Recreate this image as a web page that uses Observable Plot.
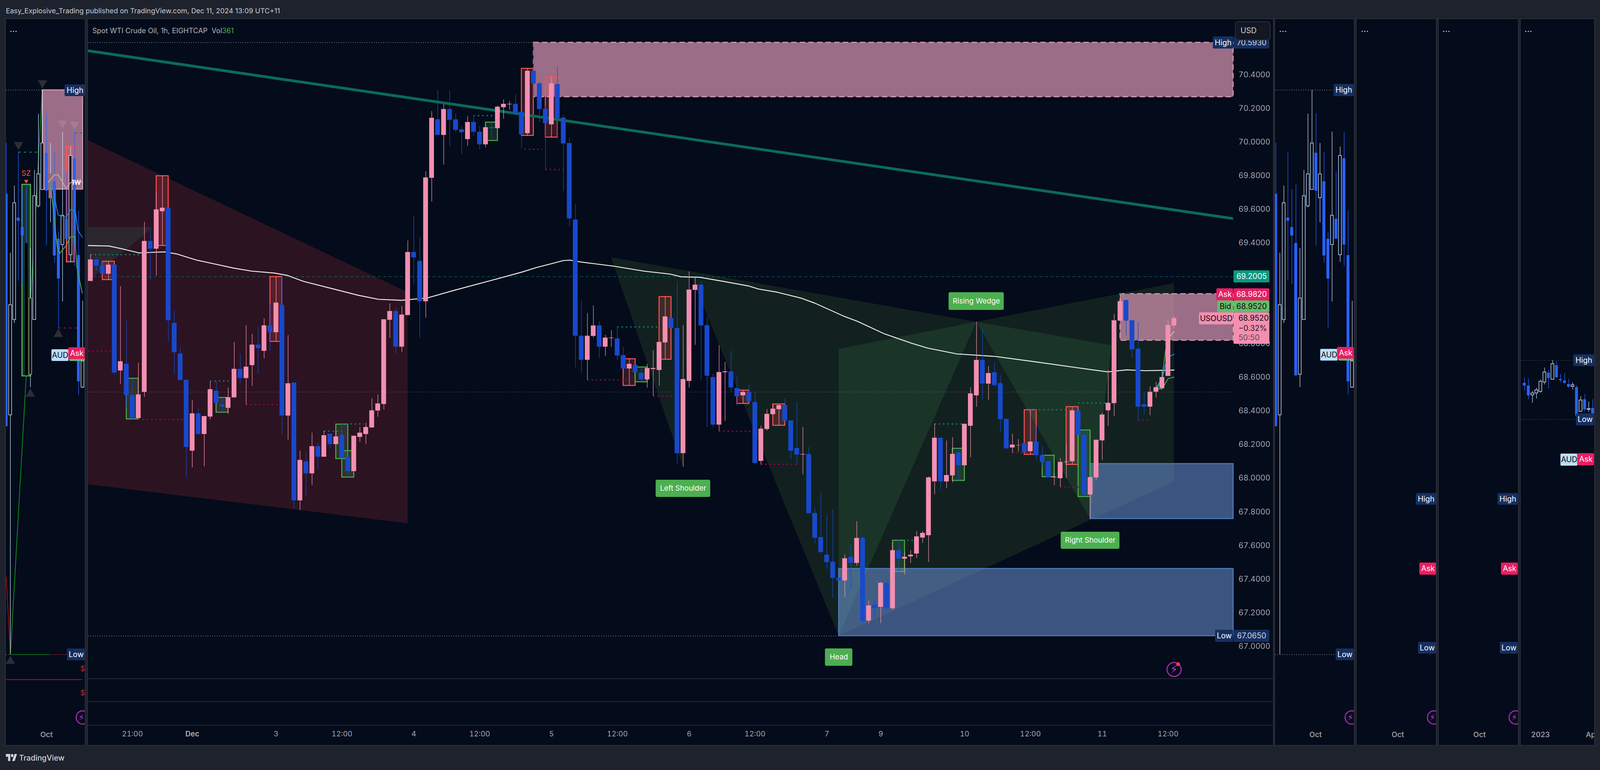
<!doctype html>
<html><head><meta charset="utf-8">
<script src="https://cdn.jsdelivr.net/npm/d3@7"></script>
<script src="https://cdn.jsdelivr.net/npm/@observablehq/plot@0.6"></script>
<style>
html,body{margin:0;padding:0;background:#1e222d;overflow:hidden;}
#page{position:relative;height:1971px;overflow:hidden;background:#1e222d;font-family:Inter,sans-serif;}
.hdr{position:absolute;color:#c9ccd3;white-space:pre;}
.leg{position:absolute;color:#b2b5be;white-space:pre;}
.leg span{color:#4caf50;}
.foot{position:absolute;color:#d1d4dc;font-weight:500;}
.logo{position:absolute;top:1929px;}
</style></head><body><div id="page">
<div class="hdr" id="hdr">Easy_Explosive_Trading published on TradingView.com, Dec 11, 2024 13:09 UTC+11</div>
<svg class="logo" id="logo" height="20" viewBox="0 0 36 20" preserveAspectRatio="none" fill="#d1d4dc"><path d="M14 19H7V8H0V1h14v18zM28 19h-8l7.5-18h8L28 19z"/><circle cx="20" cy="5" r="4"/></svg>
<div class="foot" id="foot">TradingView</div>
</div>
<script>
// ---------- main chart: USOUSD 1h candles, price values
const opens=[69.173,69.301,69.265,69.216,69.270,68.640,68.680,68.494,68.357,68.513,
69.411,69.365,69.588,69.609,68.924,68.741,68.585,68.163,68.385,68.262,
68.366,68.520,68.438,68.418,68.480,68.650,68.595,68.672,68.794,68.757,
68.909,68.868,69.031,68.372,68.569,67.867,68.100,68.028,68.190,68.127,
68.264,68.202,68.258,68.123,68.041,68.245,68.262,68.301,68.402,68.441,
68.942,68.994,68.782,68.970,69.345,69.293,69.052,69.787,70.135,70.042,
70.196,70.135,70.075,70.017,70.119,70.061,69.986,70.088,70.082,70.207,
70.224,70.227,70.180,70.052,70.424,70.349,70.198,70.105,70.345,70.145,
69.994,69.538,68.847,68.704,68.846,68.908,68.782,68.833,68.831,68.732,
68.652,68.675,68.627,68.587,68.649,68.643,68.807,68.953,68.892,68.148,
68.578,69.120,69.151,68.910,68.601,68.318,68.630,68.635,68.536,68.492,
68.512,68.453,68.102,68.292,68.380,68.410,68.434,68.343,68.179,68.140,
68.143,67.792,67.649,67.544,67.502,67.407,67.391,67.532,67.495,67.644,
67.152,67.246,67.234,67.377,67.225,67.571,67.520,67.534,67.551,67.646,
67.660,67.980,68.240,67.980,68.016,68.153,68.076,68.311,68.492,68.703,
68.562,68.630,68.565,68.352,68.182,68.195,68.209,68.160,68.217,68.137,
68.100,68.004,67.999,68.095,68.100,68.403,68.257,67.902,68.004,68.224,
68.403,68.446,68.937,69.060,68.939,68.770,68.439,68.425,68.514,68.535,
68.608,68.908];
const closes=[69.301,69.265,69.216,69.270,68.628,68.695,68.494,68.357,68.498,69.411,
69.365,69.599,69.609,68.939,68.749,68.583,68.185,68.385,68.262,68.369,
68.529,68.448,68.426,68.481,68.650,68.595,68.663,68.794,68.773,68.909,
68.868,69.044,68.372,68.564,67.867,68.108,68.028,68.190,68.127,68.255,
68.202,68.248,68.120,68.041,68.252,68.270,68.304,68.403,68.444,68.945,
68.994,68.782,68.973,69.345,69.313,69.052,69.789,70.144,70.042,70.196,
70.132,70.072,70.058,70.119,70.061,69.986,70.088,70.082,70.210,70.227,
70.227,70.168,70.046,70.424,70.347,70.196,70.112,70.349,70.142,69.991,
69.545,68.847,68.704,68.847,68.908,68.781,68.836,68.836,68.729,68.652,
68.680,68.629,68.587,68.655,68.655,68.810,68.962,68.893,68.148,68.589,
69.122,69.151,68.908,68.609,68.318,68.631,68.635,68.539,68.487,68.512,
68.458,68.090,68.294,68.382,68.413,68.434,68.340,68.163,68.140,68.143,
67.791,67.645,67.560,67.500,67.405,67.391,67.523,67.495,67.644,67.151,
67.242,67.225,67.377,67.225,67.571,67.520,67.532,67.544,67.653,67.674,
68.004,68.240,67.980,68.018,68.144,68.076,68.323,68.504,68.703,68.562,
68.625,68.553,68.350,68.177,68.199,68.197,68.154,68.217,68.136,68.095,
68.006,68.008,68.096,68.098,68.403,68.257,67.904,68.006,68.228,68.378,
68.448,68.939,69.053,68.937,68.766,68.425,68.425,68.514,68.541,68.601,
68.911,68.952];
const highs=[69.332,69.310,69.288,69.290,69.270,69.142,68.936,68.591,68.687,69.525,
69.480,69.703,69.799,69.609,69.001,68.781,68.585,68.464,68.421,68.369,
68.576,68.576,68.477,68.539,68.810,68.739,68.909,68.858,68.899,68.950,
69.033,69.199,69.199,68.850,68.569,68.164,68.150,68.270,68.209,68.283,
68.264,68.283,68.326,68.163,68.252,68.304,68.330,68.474,68.498,68.945,
69.039,69.013,69.024,69.414,69.559,69.436,69.826,70.184,70.307,70.224,
70.307,70.170,70.092,70.153,70.158,70.095,70.088,70.115,70.218,70.254,
70.244,70.284,70.180,70.439,70.593,70.359,70.219,70.389,70.449,70.163,
70.024,69.629,69.056,68.982,69.027,68.932,68.852,68.880,68.901,68.781,
68.711,68.675,68.659,68.680,68.761,68.810,69.080,68.953,69.171,68.910,
69.230,69.193,69.171,68.960,68.621,68.791,68.692,68.757,68.603,68.523,
68.555,68.511,68.312,68.410,68.440,68.441,68.474,68.343,68.453,68.303,
68.185,67.823,67.914,67.782,67.814,67.407,67.544,67.602,67.743,67.653,
67.271,67.276,67.382,67.387,67.617,67.629,67.558,67.570,67.684,67.684,
68.010,68.325,68.240,68.223,68.243,68.177,68.323,68.540,68.930,68.887,
68.666,68.691,68.615,68.352,68.265,68.231,68.209,68.407,68.311,68.188,
68.100,68.027,68.120,68.206,68.422,68.403,68.287,68.006,68.228,68.388,
68.645,68.976,69.097,69.060,68.939,68.930,68.509,68.546,68.572,68.635,
68.942,68.964];
const lows=[69.173,69.236,69.216,69.181,68.613,68.561,68.422,68.350,68.357,68.483,
69.181,69.206,69.384,68.813,68.620,68.583,68.006,68.064,68.262,68.070,
68.350,68.448,68.390,68.382,68.480,68.564,68.438,68.549,68.620,68.712,
68.757,68.813,68.259,68.229,67.818,67.809,67.890,67.960,68.048,68.127,
68.173,68.202,68.110,68.005,68.041,68.215,68.203,68.301,68.365,68.408,
68.835,68.743,68.749,68.970,69.154,68.835,68.954,69.646,70.042,69.866,
69.975,70.058,69.928,69.977,70.038,69.955,69.969,70.009,70.082,70.138,
70.192,70.168,69.961,70.039,70.269,70.119,69.837,70.029,70.018,69.708,
69.499,68.659,68.627,68.585,68.837,68.715,68.727,68.781,68.701,68.652,
68.552,68.629,68.573,68.538,68.489,68.549,68.707,68.893,68.081,68.066,
68.538,68.793,68.582,68.303,68.303,68.280,68.340,68.511,68.431,68.444,
68.458,68.081,68.081,68.283,68.380,68.314,68.340,68.114,68.081,68.022,
67.791,67.614,67.553,67.458,67.288,67.391,67.293,67.342,67.479,67.133,
67.135,67.171,67.137,67.213,67.213,67.444,67.425,67.495,67.524,67.614,
67.501,67.904,67.933,67.940,67.975,67.984,68.076,68.124,68.425,68.465,
68.465,68.546,68.274,68.171,68.151,68.158,68.154,68.141,68.107,68.066,
68.006,67.958,67.948,68.000,68.081,68.257,67.890,67.759,67.989,68.107,
68.310,68.369,68.937,68.848,68.714,68.345,68.379,68.374,68.480,68.535,
68.608,68.894];
const priceTicks=[67.0,67.2,67.4,67.6,67.8,68.0,68.2,68.4,68.6,68.8,69.4,69.6,69.8,70.0,70.2,70.4];
const timeTickBars=[7,31,42,54,65,77,88,100,111,123,132,146,157,169,180];
const timeTickLabels=["21:00","3","12:00","4","12:00","5","12:00","6","12:00","7","9","10","12:00","11","12:00"];
const boldTickBars=[17];
const boldTickLabels=["Dec"];
// slow moving average: [bar, price]
const emaLine=[[-0.4,69.385],[3.04,69.382],[5.2,69.366],[8.1,69.341],[10,69.344],[12.43,69.347],[14.36,69.335],[17.73,69.298],[20.62,69.276],[24,69.25],[26.88,69.233],[30.74,69.221],[32.9,69.207],[35.55,69.172],[40.85,69.124],[44.7,69.089],[48.07,69.065],[51.9,69.059],[56.26,69.073],[60.6,69.117],[67.34,69.181],[72.16,69.228],[74.47,69.254],[76.7,69.274],[78.94,69.295],[80.06,69.298],[82.08,69.286],[87.45,69.262],[92.37,69.233],[96.84,69.215],[98.63,69.199],[101.76,69.196],[105.79,69.171],[109.82,69.145],[111.6,69.126],[114.74,69.107],[118.77,69.071],[121,69.042],[125.92,68.963],[128.16,68.933],[132.64,68.859],[137.11,68.804],[139.8,68.775],[144.7,68.74],[151.13,68.725],[157.39,68.695],[165,68.657],[169.92,68.633],[173.05,68.645],[176.18,68.64],[181,68.644]];
const trendLine=[[-0.41,70.544],[190.9,69.545]];
const thinGreen=[[178,68.531],[179,68.531],[180,68.593],[181,68.602]];
const riseGreen=[[178,68.536],[179,68.598],[179.6,68.765],[180,68.83]];
const riseBeige=[[180,68.83],[181,68.874]];
const riseBlue=[[178.2,68.536],[179,68.588],[179.5,68.671],[180.3,68.726],[181,68.738]];
// zones: [bar from, bar to, price low, price high]
const supplyZones=[[74,190.9,70.269,70.593],[172,190.9,68.82,69.097]];
const demandZones=[[125,190.9,67.062,67.462],[167,190.9,67.759,68.086]];
const redBoxes=[[2,4,69.181,69.29],[11,13,69.384,69.799],[30,32,68.813,69.199],[72,74,70.039,70.438],[76,78,70.029,70.387],[89,91,68.551,68.71],[95,97,68.707,69.08],[108,110,68.444,68.523],[114,116,68.314,68.441],[156,158,68.141,68.407],[163,165,68.081,68.425]];
const greenBoxes=[[6,8,68.352,68.594],[21,23,68.392,68.48],[41,43,68.116,68.321],[42,44,68.006,68.163],[66,68,70.009,70.118],[91,93,68.573,68.661],[134,136,67.444,67.63],[144,146,67.986,68.177],[159,161,68.008,68.136],[165,167,67.89,68.286]];
// dotted swing links: [bar from, bar to, price]
const tealLinks=[[0,8.3,69.331],[20,23.6,68.579],[64,67.6,70.158],[39,42,68.28],[42,45.7,68.323],[88,95,68.901],[141,145.8,68.323],[157,163.65,68.408],[165,170,68.448],[172,174,69.097],[135,137.7,67.631]];
const maroonLinks=[[-0.4,3.5,68.758],[72.5,75.5,69.958],[76,79,69.837],[8,15.6,68.35],[26,31.5,68.438],[83,89.7,68.586],[94,97.5,68.489],[105,110.3,68.28],[112,118.5,68.083],[154,157,68.153],[162,165.7,67.948],[175,177,68.347]];
// patterns: [bar, lower price, upper price]
const redWedge=[[-0.41,67.963,70.011],[53,67.731,69.106]];
const greyWedge=[[-0.41,69.172,69.494],[10.5,69.494,69.494]];
const leftShoulder=[[87,69.314,69.314],[99,68.066,69.238],[100,69.232,69.232]];
const headVee=[[100,69.232,69.232],[125,67.062,69.075],[148,68.93,68.93]];
const bigWedge=[[125,67.062,67.062],[148,67.439,68.93],[181,67.98,69.16]];
const headLight=[[125,67.062,68.768],[148,68.93,68.93]];
const rightWing=[[148,68.93,68.93],[167,67.759,68.812],[170.6,68.79,68.79]];
// pattern labels: [bar from, bar to, price low, price high, text]
const patternLabels=[[143.36,152.58,69.001,69.106,"Rising Wedge"],[94.43,103.55,67.888,67.99,"Left Shoulder"],[122.71,127.29,66.883,66.986,"Head"],[162.09,171.91,67.579,67.681,"Right Shoulder"]];
// price scale tags: [bar from, bar to, price low, price high, fill, text, text colour]
const mainTags=[
[187.5,190.9,70.556,70.628,"#152f61","High","#fff"],
[190.96,196.95,70.556,70.628,"#152f61","70.5930","#d1d4dc"],
[187.87,190.9,67.025,67.097,"#152f61","Low","#fff"],
[190.96,196.95,67.025,67.097,"#152f61","67.0650","#d1d4dc"],
[190.96,196.95,69.164,69.236,"#0a9981","69.2005","#fff"],
[188.1,190.9,69.057,69.129,"#e91e63","Ask","#fff"],
[190.96,196.95,69.057,69.129,"#e91e63","68.9820","#fff"],
[188.25,190.9,68.986,69.057,"#66bb6a","Bid","#0a0a0a"],
[190.96,196.95,68.986,69.057,"#66bb6a","68.9520","#0a0a0a"],
[185.2,190.9,68.915,68.986,"#f48fb1","USOUSD","#0a0a0a"]];
const lastBox=[190.96,196.95,68.799,68.986];
const lastLines=[[68.952,"68.9520","#0a0a0a"],[68.892,"\u22120.32%","#1c1c1c"],[68.836,"50:50","#5d4a52"]];
const paneRules=[66.807,66.67,66.53];
const highPrice=70.593, lowPrice=67.062, hiPrice=69.2, midPrice=68.513;

// ---------- side panels: candles on a nominal scale (no price axis in the picture)
const pOpens=[0.7004,0.6438,0.6682,0.6943,0.6919,0.6878,0.6542,0.6682,0.6973,0.7015,0.7109,0.6994,0.7036,0.6889,0.6874,0.6940,0.6848,0.7095,0.6847,0.6509];
const pCloses=[0.6409,0.6720,0.6981,0.6935,0.6897,0.6539,0.6737,0.6999,0.7055,0.7134,0.7012,0.7055,0.6846,0.6787,0.6949,0.6889,0.7102,0.6874,0.6524,0.6576];
const pHighs=[0.7135,0.6853,0.7025,0.7112,0.7016,0.7028,0.6865,0.7065,0.7209,0.7270,0.7210,0.7134,0.7112,0.6907,0.7163,0.7061,0.7125,0.7162,0.6961,0.6730];
const pLows=[0.6409,0.5825,0.6673,0.6782,0.6773,0.6539,0.6509,0.6682,0.6969,0.7015,0.6872,0.6931,0.6828,0.6661,0.6728,0.6889,0.6830,0.6820,0.6489,0.6507];
const qBars=[1,2,3,4,5,6,7,8,9,10,11,12,13,14,15,16,17,18];
const qOpens=[0.6520,0.6513,0.6489,0.6494,0.6498,0.6522,0.6546,0.6529,0.6565,0.6530,0.6526,0.6517,0.6511,0.6509,0.6447,0.6478,0.6452,0.6456];
const qCloses=[0.6513,0.6488,0.6494,0.6502,0.6524,0.6548,0.6532,0.6569,0.6534,0.6527,0.6520,0.6510,0.6515,0.6436,0.6476,0.6452,0.6454,0.6441];
const qHighs=[0.6534,0.6531,0.6500,0.6507,0.6529,0.6559,0.6553,0.6578,0.6575,0.6543,0.6545,0.6530,0.6521,0.6514,0.6486,0.6491,0.6472,0.6478];
const qLows=[0.6500,0.6478,0.6469,0.6480,0.6495,0.6516,0.6506,0.6529,0.6534,0.6521,0.6517,0.6508,0.6503,0.6436,0.6446,0.6447,0.6446,0.6441];

const BG="#040b1a", UP="#f48fb1", DOWN="#1849cd", TAGBLUE="#152f61", INK="#a3a6af";
// the window may be narrower than the 4954 px the chart was made for: fit the width to it
const REF_W=4954;
const W=Math.min(window.innerWidth||REF_W,REF_W);
const k=W/REF_W;
const F=n=>+(n*Math.max(k,0.85)).toFixed(1);
const page=document.getElementById("page");
page.style.width=W+"px";
const setBox=(id,left,top,size)=>{const e=document.getElementById(id);e.style.left=left*k+"px";e.style.top=top+"px";if(size)e.style.fontSize=size+"px";return e;};
setBox("hdr",18,17,+(21.7*k).toFixed(1));
setBox("foot",59,1928,+(23.5*k).toFixed(1));
document.getElementById("logo").setAttribute("width",35*k);
document.getElementById("logo").style.left=18*k+"px";
function mount(svg,left,top,w,h){
  Object.assign(svg.style,{position:"absolute",left:left*k+"px",top:top+"px",width:w*k+"px",height:h+"px",maxWidth:"none",boxShadow:"0 0 0 2px #2a2e39"});
  page.appendChild(svg);
}
const fieldRect=(rows,o)=>Plot.rect(rows,{x1:d=>d[0],x2:d=>d[1],y1:d=>d[2],y2:d=>d[3],...o});
const linkRules=(rows,o)=>Plot.ruleY(rows,{y:d=>d[2],x1:d=>d[0],x2:d=>d[1],...o});
const xyLine=(rows,o)=>Plot.line(rows,{x:d=>d[0],y:d=>d[1],...o});
const band=(rows,fill)=>Plot.area(rows,{x1:d=>d[0],y1:d=>d[1],y2:d=>d[2],fill,curve:"linear",clip:true});
const tagMarks=(rows)=>rows.flatMap(r=>[
  Plot.rect([r],{x1:d=>d[0],x2:d=>d[1],y1:d=>d[2],y2:d=>d[3],fill:d=>d[4],rx:3}),
  Plot.text([r],{x:d=>(d[0]+d[1])/2,y:d=>(d[2]+d[3])/2,text:d=>d[5],fill:d=>d[6],fontSize:F(23),lineAnchor:"middle"})
]);

// ---------- main panel
const bars=opens.map((o,i)=>({i,o,c:closes[i],h:highs[i],l:lows[i]}));
const ups=bars.filter(d=>d.c>=d.o), downs=bars.filter(d=>d.c<d.o);
const candleMarks=(rows,color)=>[
  Plot.ruleX(rows,{x:"i",y1:"l",y2:"h",stroke:color,strokeWidth:1.3}),
  Plot.rect(rows,{x1:d=>d.i-0.4,x2:d=>d.i+0.4,y1:"o",y2:"c",fill:color})
];
const mainSvg=Plot.plot({
  width:3670*k,height:1858,marginLeft:0,marginRight:124*k,marginTop:0,marginBottom:51,
  x:{domain:[-0.41,190.9]},y:{domain:[66.53,70.731]},
  color:{type:"identity"},
  style:{background:BG,fontFamily:"Inter, sans-serif",overflow:"hidden"},
  marks:[
    band(redWedge,"#2c1321"),
    band(greyWedge,"#2c272e"),
    band(leftShoulder,"#12211f"),
    band(headVee,"#12211f"),
    band(bigWedge,"#12211f"),
    band(headLight,"#1a3528"),
    band(rightWing,"#1a3528"),
    Plot.ruleY(paneRules,{x1:-0.41,x2:197.6,stroke:"#2f333e",strokeWidth:1.5}),
    Plot.ruleY([highPrice],{x1:-0.41,x2:74,stroke:"#8a8d96",strokeWidth:1.5,strokeDasharray:"2,4"}),
    Plot.ruleY([lowPrice],{x1:-0.41,x2:188,stroke:"#8a8d96",strokeWidth:1.5,strokeDasharray:"2,4"}),
    Plot.ruleY([midPrice],{x1:-0.41,x2:190.9,stroke:"#6e6a74",strokeWidth:1,strokeDasharray:"2,4"}),
    Plot.ruleY([hiPrice],{x1:-0.41,x2:190.9,stroke:"#0e8f7a",strokeOpacity:0.75,strokeWidth:1.3,strokeDasharray:"8,6"}),
    fieldRect(supplyZones,{fill:"#f4a6c8",fillOpacity:0.63,stroke:"#d89bb8",strokeWidth:2.5,strokeDasharray:"14,8"}),
    fieldRect(demandZones,{fill:"#6a94d6",fillOpacity:0.55,stroke:"#4f7cc0",strokeWidth:2.5}),
    fieldRect(redBoxes,{fill:"#ff5252",fillOpacity:0.2,stroke:"#ff5252",strokeWidth:2.5}),
    fieldRect(greenBoxes,{fill:"#4caf50",fillOpacity:0.2,stroke:"#4caf50",strokeWidth:2.5}),
    linkRules(tealLinks,{stroke:"#0a7f70",strokeWidth:3,strokeDasharray:"4,7"}),
    linkRules(maroonLinks,{stroke:"#8b0a50",strokeWidth:3,strokeDasharray:"4,7"}),
    xyLine(trendLine,{stroke:"#0a6b57",strokeWidth:7,clip:true}),
    xyLine(emaLine,{stroke:"#ececec",strokeWidth:2.4,curve:"linear",clip:true}),
    xyLine(thinGreen,{stroke:"#4caf50",strokeWidth:2}),
    xyLine(riseGreen,{stroke:"#4caf50",strokeWidth:2}),
    xyLine(riseBeige,{stroke:"#c9c5a8",strokeWidth:2}),
    xyLine(riseBlue,{stroke:"#1e88e5",strokeWidth:2.4}),
    ...candleMarks(ups,UP),
    ...candleMarks(downs,DOWN),
    fieldRect(patternLabels,{fill:"#4caf50",rx:4}),
    Plot.text(patternLabels,{x:d=>(d[0]+d[1])/2,y:d=>(d[2]+d[3])/2,text:d=>d[4],fill:"#fff",fontSize:F(22),lineAnchor:"middle"}),
    Plot.axisY(priceTicks,{anchor:"right",tickSize:0,tickPadding:16*k,tickFormat:d=>d.toFixed(4),fill:INK,fontSize:F(23),label:null,textAnchor:"start"}),
    Plot.axisX(timeTickBars,{tickSize:0,tickPadding:15,tickFormat:d=>timeTickLabels[timeTickBars.indexOf(d)],fill:INK,fontSize:F(22),label:null}),
    Plot.axisX(boldTickBars,{tickSize:0,tickPadding:15,tickFormat:d=>boldTickLabels[boldTickBars.indexOf(d)],fill:"#b2b5be",fontWeight:600,fontSize:F(22),label:null}),
    ...tagMarks(mainTags),
    Plot.rect([lastBox],{x1:d=>d[0],x2:d=>d[1],y1:d=>d[2],y2:d=>d[3],fill:UP,rx:3}),
    Plot.text(lastLines,{x:191.75,y:d=>d[0],text:d=>d[1],fill:d=>d[2],fontSize:F(23),textAnchor:"start",lineAnchor:"middle"}),
    Plot.rect([[191.26,197.09,70.6073,70.7166]],{x1:d=>d[0],x2:d=>d[1],y1:d=>d[2],y2:d=>d[3],fill:"#131722",stroke:"#2a2e39",strokeWidth:2,rx:8}),
    Plot.text(["USD"],{x:192.1,y:70.663,text:d=>d,fill:"#d1d4dc",fontSize:F(23),textAnchor:"start",lineAnchor:"middle"}),
    Plot.dot([0],{x:181,y:66.862,r:18,stroke:"#9c27b0",strokeWidth:3,fill:"none"}),
    Plot.text(["\u26a1"],{x:181,y:66.862,text:d=>d,fill:"#b040d0",fontSize:28,fontFamily:"DejaVu Sans",lineAnchor:"middle"}),
    Plot.dot([0],{x:181.67,y:66.893,r:5,fill:"#f23645"})
  ]
});
mount(mainSvg,272,49,3670,1858);

// ---------- side panels
const sideBars=pOpens.map((o,i)=>({i,o,c:pCloses[i],h:pHighs[i],l:pLows[i]}));
const qRows=qBars.map((i,j)=>({i,o:qOpens[j],c:qCloses[j],h:qHighs[j],l:qLows[j]}));
function sideCandles(rows){
  const u=rows.filter(d=>d.c>=d.o), n=rows.filter(d=>d.c<d.o);
  return [
    Plot.ruleX(u,{x:"i",y1:"l",y2:"h",stroke:"#c5dcf5",strokeWidth:1.3}),
    Plot.ruleX(n,{x:"i",y1:"l",y2:"h",stroke:"#2962ff",strokeWidth:1.3}),
    Plot.rect(u,{x1:d=>d.i-0.36,x2:d=>d.i+0.36,y1:"o",y2:"c",fill:BG,stroke:"#c5dcf5",strokeWidth:1.5}),
    Plot.rect(n,{x1:d=>d.i-0.36,x2:d=>d.i+0.36,y1:"o",y2:"c",fill:"#2962ff"})
  ];
}
const sideTags=tagMarks;
const bolt=(x)=>Plot.dot([0],{x,y:0.5664,r:17,stroke:"#9c27b0",strokeWidth:3,fill:"none"});
const boltGlyph=(x)=>Plot.text(["\u26a1"],{x:x-0.35,y:0.5664,text:d=>d,fill:"#b040d0",fontSize:22,fontFamily:"DejaVu Sans",lineAnchor:"middle"});
function side(left,right,domain,ticks,labels,dotsAt,marks){
  const w=right-left;
  const svg=Plot.plot({
    width:w*k,height:1858,marginLeft:0,marginRight:0,marginTop:0,marginBottom:51,
    x:{domain},y:{domain:[0.5644,0.7451],axis:null},color:{type:"identity"},
    style:{background:BG,fontFamily:"Inter, sans-serif",overflow:"hidden"},
    marks:[
      ...marks,
      Plot.text(["..."],{x:dotsAt,y:0.7425,text:d=>d,fill:"#b2b5be",fontSize:20,fontWeight:700}),
      Plot.axisX(ticks,{tickSize:0,tickPadding:17,tickFormat:d=>labels[ticks.indexOf(d)],fill:"#9598a1",fontWeight:600,fontSize:F(22),label:null})
    ]
  });
  mount(svg,left,49,w,1858);
}
// panel 1 annotations
const p1Zone=[[8.99,19.04,0.7016,0.7270]];
const p1Green=[[3.95,6.04,0.6538,0.7028]];
const p1Red=[[15.02,16.92,0.6830,0.7125]];
const p1Black=[[4.64,5.36,0.6539,0.6878]];
const p1Olive=[[5.66,6.34,0.6542,0.6737]];
const p1Dim=[[10.62,11.34,0.6993,0.7055]];
const p1Beige=[[10.36,0.7033],[11.96,0.7053],[12.9,0.7053],[14.9,0.7018],[15.96,0.7033],[18.9,0.7035]];
const p1Blue=[[10.36,0.7033],[11.56,0.7018],[12.9,0.6950],[14.9,0.6944],[15.96,0.6964],[17.16,0.6961],[17.83,0.6911],[18.9,0.6893]];
const p1GreenLine=[[10.36,0.7033],[11.03,0.7028],[12.63,0.6871],[13.3,0.6852],[14.9,0.6872],[15.96,0.6894],[17.03,0.6895],[17.56,0.6817],[18.9,0.6750]];
const p1Rise=[[1.02,0.5825],[4.74,0.65],[5.43,0.6616],[8.95,0.727]];
const p1Fall=[[-0.03,0.6023],[1.02,0.5825]];
const p1Down=[[3.04,0.713],[8.99,0.7288],[13.97,0.7185],[16.97,0.7182]];
const p1Up=[[5.98,0.6492],[12.95,0.6645],[1.02,0.5808]];
const p1Tags=[[14.56,19.63,0.7254,0.7284,TAGBLUE,"High","#fff"],[15.12,19.63,0.5810,0.5840,TAGBLUE,"Low","#fff"],[11.27,15.53,0.6576,0.6606,"#bbdefb","AUD","#0a0a0a"],[15.7,19.63,0.6576,0.6590,"#66bb6a","",""],[15.45,19.63,0.6581,0.6611,"#e91e63","Ask","#fff"]];
side(18,263,[-0.069,19.626],[10],["Oct"],1.78,[
  xyLine(p1Rise,{stroke:"#0e8a1e",strokeWidth:2}),
  xyLine(p1Fall,{stroke:"#a01010",strokeWidth:2}),
  Plot.dot(p1Down,{x:d=>d[0],y:d=>d[1],symbol:"triangle",rotate:180,r:9,fill:"#2a2e39"}),
  Plot.dot(p1Up,{x:d=>d[0],y:d=>d[1],symbol:"triangle",r:9,fill:"#2a2e39"}),
  fieldRect(p1Zone,{fill:"#f4a6c8",fillOpacity:0.63,stroke:"#d89bb8",strokeWidth:2.5}),
  fieldRect(p1Green,{fill:"#1a3528",stroke:"#4caf50",strokeWidth:3}),
  fieldRect(p1Red,{fill:"#ff5252",fillOpacity:0.2,stroke:"#ff5252",strokeWidth:3}),
  linkRules([[3.04,7.73,0.7111],[16.97,18.98,0.7160]],{stroke:"#0a7f70",strokeWidth:2.5,strokeDasharray:"6,8"}),
  linkRules([[12.95,17.6,0.6661]],{stroke:"#8b0a50",strokeWidth:2.5,strokeDasharray:"6,8"}),
  Plot.ruleY([0.7270],{x1:-0.07,x2:8.99,stroke:"#8a8d96",strokeWidth:1.3,strokeDasharray:"2,4"}),
  Plot.ruleY([0.5825],{x1:-0.07,x2:1.02,stroke:"#8a8d96",strokeWidth:1.3,strokeDasharray:"2,4"}),
  Plot.ruleY([0.5825],{x1:1.02,x2:10.86,stroke:"#0e8a1e",strokeWidth:1.5}),
  Plot.ruleY([0.5825],{x1:10.86,x2:15.12,stroke:"#c62828",strokeWidth:1.3,strokeDasharray:"2,2"}),
  Plot.ruleY([0.5761],{x1:-0.07,x2:18.98,stroke:"#b01616",strokeWidth:2}),
  Plot.text(["$","$"],{x:19,y:(d,i)=>[0.5788,0.5726][i],text:d=>d,fill:"#c62828",fontSize:F(22),lineAnchor:"middle"}),
  ...sideCandles(sideBars),
  fieldRect(p1Black,{fill:"#000"}),
  fieldRect(p1Olive,{fill:"none",stroke:"#7d8a4b",strokeWidth:1.6}),
  fieldRect(p1Dim,{fill:"#9e6e88",stroke:"#8a4a58",strokeWidth:1.4}),
  xyLine(p1Beige,{stroke:"#c9b79a",strokeWidth:2}),
  xyLine(p1GreenLine,{stroke:"#4caf50",strokeWidth:2}),
  xyLine(p1Blue,{stroke:"#1e88e5",strokeWidth:2}),
  Plot.text(["1W"],{x:17.4,y:0.7033,text:d=>d,fill:"#fff",fontSize:F(20),fontWeight:600,lineAnchor:"middle"}),
  Plot.text(["SZ"],{x:4.92,y:0.7056,text:d=>d,fill:"#ff5252",fontSize:F(22),lineAnchor:"middle"}),
  Plot.dot([0],{x:4.95,y:0.7037,symbol:"triangle",rotate:180,r:4,fill:"#ff5252"}),
  ...sideTags(p1Tags),
  bolt(19.03),boltGlyph(19.03)
]);
// panel 2
const p2Tags=[[14.39,19.45,0.7254,0.7285,TAGBLUE,"High","#fff"],[14.95,19.45,0.5810,0.5840,TAGBLUE,"Low","#fff"],[11.09,15.43,0.6577,0.6607,"#bbdefb","AUD","#0a0a0a"],[15.6,19.45,0.6577,0.6590,"#66bb6a","",""],[15.27,19.45,0.6582,0.6612,"#e91e63","Ask","#fff"]];
side(3948,4192,[-0.16,19.45],[9.9],["Oct"],1.77,[
  Plot.ruleY([0.7270],{x1:-0.16,x2:14.39,stroke:"#8a8d96",strokeWidth:1.3,strokeDasharray:"2,4"}),
  Plot.ruleY([0.5825],{x1:-0.16,x2:14.95,stroke:"#8a8d96",strokeWidth:1.3,strokeDasharray:"2,4"}),
  ...sideCandles(sideBars),
  ...sideTags(p2Tags),
  bolt(18.89),boltGlyph(18.89)
]);
// panels 3 and 4 (empty)
const p3Tags=[[14.71,19.77,0.6208,0.6238,TAGBLUE,"High","#fff"],[15.6,19.77,0.6029,0.6060,"#e91e63","Ask","#fff"],[15.27,19.77,0.5827,0.5857,TAGBLUE,"Low","#fff"]];
side(4200,4446,[0,19.77],[10.2],["Oct"],1.98,[...sideTags(p3Tags),bolt(19.21),boltGlyph(19.21)]);
const p4Tags=[[14.63,19.69,0.6208,0.6238,TAGBLUE,"High","#fff"],[15.5,19.69,0.6029,0.6060,"#e91e63","Ask","#fff"],[15.19,19.69,0.5827,0.5857,TAGBLUE,"Low","#fff"]];
side(4455,4700,[0,19.69],[10.13],["Oct"],1.85,[...sideTags(p4Tags),bolt(19.13),boltGlyph(19.13)]);
// panel 5
const p5Tags=[[13.22,18.36,0.6563,0.6593,TAGBLUE,"High","#fff"],[13.86,18.36,0.6411,0.6442,TAGBLUE,"Low","#fff"],[10,14.25,0.6308,0.6339,"#bbdefb","AUD","#0a0a0a"],[14.18,18.36,0.6309,0.6340,"#e91e63","Ask","#fff"]];
side(4709,4936,[0.11,18.36],[5,17.48],["2023","Ap"],1.96,[
  Plot.ruleY([0.6578],{x1:0.11,x2:13.22,stroke:"#6e7079",strokeWidth:1.2,strokeDasharray:"2,4"}),
  Plot.ruleY([0.6427],{x1:0.11,x2:13.86,stroke:"#6e7079",strokeWidth:1.2,strokeDasharray:"2,4"}),
  ...sideCandles(qRows),
  ...sideTags(p5Tags)
]);
// chart legend sits above the panels
const leg=document.createElement("div");
leg.className="leg";
leg.style.left=286*k+"px";leg.style.top="67px";leg.style.fontSize=(22*k).toFixed(1)+"px";
leg.innerHTML="Spot WTI Crude Oil, 1h, EIGHTCAP  Vol<span>361</span>";
page.appendChild(leg);
</script>
</body></html>
